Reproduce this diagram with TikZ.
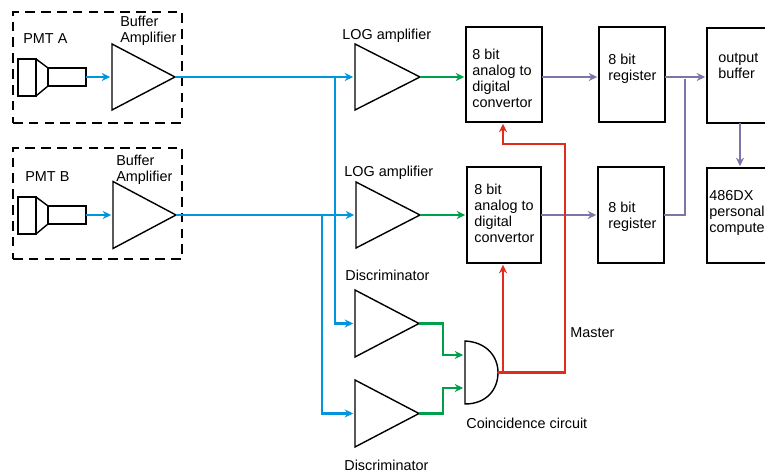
\documentclass[tikz,border=0pt]{standalone}
\usepackage{fontspec}
\setmainfont{Liberation Sans}
\definecolor{mBlue}{HTML}{0095DD}
\definecolor{mGreen}{HTML}{00A04A}
\definecolor{mRed}{HTML}{E02D1B}
\definecolor{mPurple}{HTML}{7C76A8}
\usetikzlibrary{positioning,arrows.meta,calc,shapes.geometric}
\tikzset{
  amp/.style={draw, line width=0.8pt, isosceles triangle, isosceles triangle apex angle=60, isosceles triangle stretches, inner sep=0pt, outer sep=0pt, anchor=lower side},
  blk/.style={draw, line width=0.8pt, inner sep=0pt, outer sep=0pt},
  txt/.style={align=left, anchor=west, inner sep=0pt},
  wire/.style={line width=1.5pt, -{Stealth[length=0.17cm,width=0.16cm]}, shorten >=1pt},
}
\begin{document}
\begin{tikzpicture}[x=0.02cm, y=-0.02cm, font=\fontsize{8.2}{9.1}\selectfont]
\useasboundingbox (0,0) rectangle (765,472);
\clip (0,0) rectangle (765,472);
% dashed housings
\node[blk, dashed, dash pattern=on 5.5pt off 3.5pt, minimum width=3.38cm, minimum height=2.22cm] (housa) at (97.5,67.5) {};
\node[blk, dashed, dash pattern=on 5.5pt off 3.5pt, minimum width=3.38cm, minimum height=2.22cm] (housb) at (97.5,203.5) {};
% photomultipliers
\node[blk, minimum width=0.36cm, minimum height=0.74cm] (basea) at (27,77.5) {};
\node[blk, minimum width=0.76cm, minimum height=0.36cm] (tubea) at (67,77) {};
\draw[line width=0.8pt] (basea.north east) -- (tubea.north west) (basea.south east) -- (tubea.south west);
\node[blk, minimum width=0.36cm, minimum height=0.74cm] (baseb) at (27,215.5) {};
\node[blk, minimum width=0.76cm, minimum height=0.36cm] (tubeb) at (67,215) {};
\draw[line width=0.8pt] (baseb.north east) -- (tubeb.north west) (baseb.south east) -- (tubeb.south west);
% amplifiers
\node[amp, minimum width=1.32cm, minimum height=1.26cm] (ampa) at (112,77) {};
\node[amp, minimum width=1.34cm, minimum height=1.26cm] (ampb) at (113,215) {};
\node[amp, minimum width=1.32cm, minimum height=1.3cm] (loga) at (355,77) {};
\node[amp, minimum width=1.32cm, minimum height=1.28cm] (logb) at (356,215) {};
\node[amp, minimum width=1.34cm, minimum height=1.28cm] (disca) at (355,323.5) {};
\node[amp, minimum width=1.34cm, minimum height=1.28cm] (discb) at (355,413.5) {};
% gate
\node[inner sep=0pt, outer sep=0pt, minimum width=0.66cm, minimum height=1.26cm] (gate) at (481.5,372.5) {};
\draw[line width=0.8pt] (gate.south west) -- (gate.north west) .. controls (486,342) and (498,356) .. (gate.east) .. controls (498,390) and (486,404) .. (gate.south west) -- cycle;
% converters, registers, outputs
\node[blk, minimum width=1.52cm, minimum height=1.9cm] (adca) at (504,74.5) {};
\node[blk, minimum width=1.48cm, minimum height=1.92cm] (adcb) at (504,215) {};
\node[blk, minimum width=1.32cm, minimum height=1.9cm] (rega) at (632,74.5) {};
\node[blk, minimum width=1.32cm, minimum height=1.92cm] (regb) at (631,215) {};
\node[blk, minimum width=1.4cm, minimum height=1.9cm] (outbuf) at (742,75.5) {};
\node[blk, minimum width=1.4cm, minimum height=1.9cm] (pc) at (742,215.5) {};
% blue signal lines
\draw[wire, mBlue] (tubea.east) -- (ampa.lower side);
\draw[wire, mBlue] (tubeb.east) -- (ampb.lower side);
\draw[wire, mBlue] (ampa.apex) -- (loga.lower side);
\draw[wire, mBlue] (ampb.apex) -- (logb.lower side);
\coordinate (tapa) at (335,77);
\coordinate (tapb) at (322,215);
\draw[wire, mBlue] (tapa) |- (disca.lower side);
\draw[wire, mBlue] (tapb) |- (discb.lower side);
% green lines
\draw[wire, mGreen] (loga.apex) -- (adca.west |- loga.apex);
\draw[wire, mGreen] (logb.apex) -- (adcb.west |- logb.apex);
\draw[wire, mGreen] (disca.apex) -| (443,355) -- (gate.west |- 0,355);
\draw[wire, mGreen] (discb.apex) -| (443,388) -- (gate.west |- 0,388);
% purple lines
\draw[wire, mPurple] (adca.east |- loga.apex) -- (rega.west |- loga.apex);
\draw[wire, mPurple] (adcb.east) -- (regb.west);
\draw[wire, mPurple] (rega.east |- loga.apex) -- (outbuf.west |- loga.apex);
\draw[wire, mPurple, -] (regb.east) -| (685,77);
\draw[wire, mPurple] (outbuf.south -| 740,0) -- (pc.north -| 740,0);
% red lines
\draw[wire, mRed] (gate.east) -| (503,263);
\draw[wire, mRed] (gate.east) -| (565,144) -| (503,122);
% labels
\node[txt] (lpmta) at (23,39) {PMT A};
\node[txt] (lpmtb) at (25,177) {PMT B};
\node[txt] (lbufa) at (120,31) {Buffer\\Amplifier};
\node[txt] (lbufb) at (116,170) {Buffer\\Amplifier};
\node[txt] (lloga) at (342,36) {LOG amplifier};
\node[txt] (llogb) at (344,173) {LOG amplifier};
\node[txt] (ldisca) at (345,275) {Discriminator};
\node[txt] (ldiscb) at (344,465) {Discriminator};
\node[txt] (lgate) at (466,423) {Coincidence circuit};
\node[txt] (lmaster) at (570,333) {Master};
\node[txt] (ladca) at (472,78) {8 bit\\analog to\\digital\\convertor};
\node[txt] (ladcb) at (474,213) {8 bit\\analog to\\digital\\convertor};
\node[txt] (lrega) at (608,69) {8 bit\\register};
\node[txt] (lregb) at (608,217) {8 bit\\register};
\node[txt] (lout) at (718,66) {output\\buffer};
\node[txt] (lpc) at (709,213) {486DX\\personal\\compute};
\end{tikzpicture}
\end{document}
